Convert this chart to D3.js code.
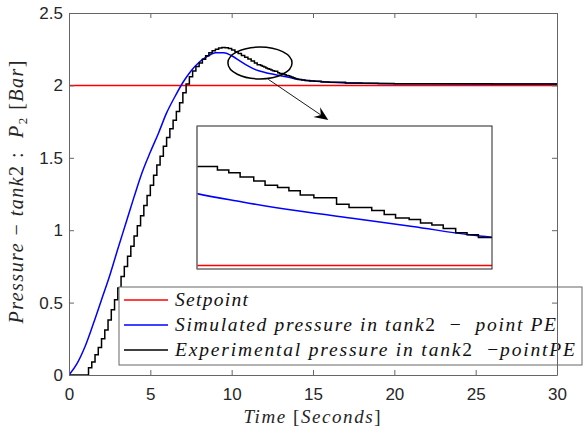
<!DOCTYPE html>
<html>
<head>
<meta charset="utf-8">
<script src="https://cdn.jsdelivr.net/npm/d3@7"></script>
<style>
  body { margin: 0; background: #fff; }
  svg text { white-space: pre; }
</style>
</head>
<body>
<div id="chart"></div>
<script>
const width = 585;
const height = 431;
const margin = { top: 13, right: 28, bottom: 56, left: 69 };

// Simulated pressure (blue)
const simTime = [0, 0.5, 1, 1.5, 2, 2.5, 3, 3.5, 4, 4.5, 5, 5.5, 6, 6.5, 7, 7.5, 8, 8.5, 9, 9.5, 10, 10.5, 11, 11.5, 12, 12.5, 13, 13.5, 14, 14.5, 15, 16, 17, 18, 20, 22, 25, 30];
const simPressure = [0, 0.08, 0.2, 0.355, 0.52, 0.685, 0.87, 1.05, 1.23, 1.4, 1.54, 1.67, 1.81, 1.92, 2.02, 2.1, 2.16, 2.2, 2.225, 2.225, 2.205, 2.17, 2.135, 2.107, 2.091, 2.078, 2.067, 2.056, 2.044, 2.036, 2.03, 2.022, 2.017, 2.014, 2.012, 2.011, 2.01, 2.01];

// Experimental pressure (black, sampled / held)
const expTime = [0, 1.0, 1.2, 1.4, 1.6, 1.8, 2.0, 2.2, 2.4, 2.6, 2.8, 3.0, 3.2, 3.4, 3.6, 3.8, 4.0, 4.2, 4.4, 4.6, 4.8, 5.0, 5.2, 5.4, 5.6, 5.8, 6.0, 6.2, 6.4, 6.6, 6.8, 7.0, 7.2, 7.4, 7.6, 7.8, 8.0, 8.2, 8.4, 8.6, 8.8, 9.0, 9.2, 9.4, 9.6, 9.8, 10.0, 10.2, 10.4, 10.6, 10.8, 11.0, 11.2, 11.4,
  11.57, 11.78, 11.88, 11.98, 12.10, 12.20, 12.31, 12.41, 12.51, 12.63, 12.83, 12.94, 13.14, 13.25, 13.35, 13.47, 13.57, 13.67, 13.77, 13.88, 13.98, 14.08,
  14.3, 14.5, 14.8, 15.1, 15.5, 16, 17, 18, 19, 20, 22, 24, 26, 28, 30];
const expPressure = [0, 0, 0.05, 0.09, 0.14, 0.19, 0.25, 0.31, 0.38, 0.45, 0.52, 0.6, 0.68, 0.75, 0.82, 0.89, 0.96, 1.03, 1.1, 1.17, 1.24, 1.31, 1.38, 1.45, 1.51, 1.58, 1.64, 1.7, 1.76, 1.82, 1.88, 1.95, 2.01, 2.06, 2.1, 2.13, 2.155, 2.18, 2.205, 2.225, 2.24, 2.25, 2.258, 2.262, 2.26, 2.255, 2.245, 2.233, 2.22, 2.207, 2.195, 2.182, 2.168, 2.155,
  2.142, 2.137, 2.133, 2.127, 2.121, 2.115, 2.112, 2.107, 2.101, 2.097, 2.088, 2.083, 2.079, 2.073, 2.068, 2.066, 2.061, 2.058, 2.053, 2.047, 2.044, 2.040,
  2.037, 2.034, 2.031, 2.028, 2.024, 2.021, 2.017, 2.015, 2.013, 2.012, 2.011, 2.011, 2.01, 2.01, 2.01];

const setpointTime = [0, 30];
const setpointPressure = [2, 2];

const xTicks = [0, 5, 10, 15, 20, 25, 30];
const yTicks = [0, 0.5, 1, 1.5, 2, 2.5];

// zoomed window shown in the inset
const insetTimeRange = [11.6, 14.2];
const insetPressureRange = [1.995, 2.2];

// ellipse around the zoomed region (data units) and arrow to the inset
const zoomCenter = [11.74, 2.155];
const zoomRadius = [1.97, 0.11];
const arrowFrom = [12.25, 2.042];
const arrowTo = [15.94, 1.761];

const legendLabels = ["Setpoint", "Simulated pressure in tank2  −  point PE", "Experimental pressure in tank2  −pointPE"];
const legendColors = ["#ff0000", "#0000ff", "#000000"];

const svg = d3.select("#chart").append("svg")
  .attr("width", width)
  .attr("height", height);

const x = d3.scaleLinear().domain([0, 30]).range([margin.left, width - margin.right]);
const y = d3.scaleLinear().domain([0, 2.5]).range([height - margin.bottom, margin.top]);

const simData = simTime.map((t, i) => [t, simPressure[i]]);
const expData = expTime.map((t, i) => [t, expPressure[i]]);
const spData = setpointTime.map((t, i) => [t, setpointPressure[i]]);

svg.append("clipPath").attr("id", "plotClip")
  .append("rect")
  .attr("x", margin.left).attr("y", margin.top)
  .attr("width", width - margin.left - margin.right)
  .attr("height", height - margin.top - margin.bottom);

const plot = svg.append("g").attr("clip-path", "url(#plotClip)");

const smooth = (sx, sy) => d3.line().x(d => sx(d[0])).y(d => sy(d[1])).curve(d3.curveMonotoneX);
const stairs = (sx, sy) => d3.line().x(d => sx(d[0])).y(d => sy(d[1])).curve(d3.curveStepAfter);

plot.append("path").datum(spData)
  .attr("d", smooth(x, y)).attr("fill", "none")
  .attr("stroke", "#ff0000").attr("stroke-width", 1.5);
plot.append("path").datum(simData)
  .attr("d", smooth(x, y)).attr("fill", "none")
  .attr("stroke", "#0000ff").attr("stroke-width", 1.5);
plot.append("path").datum(expData)
  .attr("d", stairs(x, y)).attr("fill", "none")
  .attr("stroke", "#000").attr("stroke-width", 1.5);

// ellipse
svg.append("ellipse")
  .attr("cx", x(zoomCenter[0])).attr("cy", y(zoomCenter[1]))
  .attr("rx", x(zoomCenter[0] + zoomRadius[0]) - x(zoomCenter[0]))
  .attr("ry", y(zoomCenter[1]) - y(zoomCenter[1] + zoomRadius[1]))
  .attr("fill", "none").attr("stroke", "#000").attr("stroke-width", 1.5);

// arrow
const ax0 = x(arrowFrom[0]), ay0 = y(arrowFrom[1]);
const ax1 = x(arrowTo[0]), ay1 = y(arrowTo[1]);
const ang = Math.atan2(ay1 - ay0, ax1 - ax0);
const hl = 14, hw = 6, notch = 9;
const pt = (d, s) => [ax1 - d * Math.cos(ang) - s * Math.sin(ang), ay1 - d * Math.sin(ang) + s * Math.cos(ang)];
svg.append("line")
  .attr("x1", ax0).attr("y1", ay0)
  .attr("x2", pt(notch, 0)[0]).attr("y2", pt(notch, 0)[1])
  .attr("stroke", "#000").attr("stroke-width", 0.9);
svg.append("path")
  .attr("d", "M" + [[ax1, ay1], pt(hl, hw), pt(notch, 0), pt(hl, -hw)].map(p => p.join(",")).join("L") + "Z")
  .attr("fill", "#000");

// inset
const inset = { x: 197, y: 126, w: 295, h: 143 };
const ix = d3.scaleLinear().domain(insetTimeRange).range([inset.x, inset.x + inset.w]);
const iy = d3.scaleLinear().domain(insetPressureRange).range([inset.y + inset.h, inset.y]);

svg.append("clipPath").attr("id", "insetClip")
  .append("rect").attr("x", inset.x).attr("y", inset.y).attr("width", inset.w).attr("height", inset.h);

svg.append("rect")
  .attr("x", inset.x).attr("y", inset.y).attr("width", inset.w).attr("height", inset.h)
  .attr("fill", "#fff");

const insetG = svg.append("g").attr("clip-path", "url(#insetClip)");
insetG.append("path").datum(spData)
  .attr("d", smooth(ix, iy)).attr("fill", "none")
  .attr("stroke", "#ff0000").attr("stroke-width", 1.5);
insetG.append("path").datum(simData)
  .attr("d", smooth(ix, iy)).attr("fill", "none")
  .attr("stroke", "#0000ff").attr("stroke-width", 1.5);
insetG.append("path").datum(expData)
  .attr("d", stairs(ix, iy)).attr("fill", "none")
  .attr("stroke", "#000").attr("stroke-width", 1.5);

svg.append("rect")
  .attr("x", inset.x).attr("y", inset.y).attr("width", inset.w).attr("height", inset.h)
  .attr("fill", "none").attr("stroke", "#222").attr("stroke-width", 1);
svg.append("line")
  .attr("x1", inset.x).attr("x2", inset.x).attr("y1", inset.y).attr("y2", inset.y + inset.h)
  .attr("stroke", "#888").attr("stroke-width", 1.2);

// letters in italic, the rest upright, like LaTeX math
function mathText(sel, str) {
  str.split(/([A-Za-z]+)/).filter(s => s.length).forEach(s => {
    sel.append("tspan")
      .style("font-style", /[A-Za-z]/.test(s) ? "italic" : "normal")
      .text(s);
  });
}

// legend
const legend = { x: 119, y: 287, w: 463, h: 78 };
svg.append("rect")
  .attr("x", legend.x).attr("y", legend.y).attr("width", legend.w).attr("height", legend.h)
  .attr("fill", "#fff").attr("stroke", "#666").attr("stroke-width", 1);

const rowY = d3.scalePoint().domain(d3.range(legendLabels.length)).range([300, 350]);
const textLengths = [73, 381, 400];
legendLabels.forEach((label, i) => {
  svg.append("line")
    .attr("x1", 124).attr("x2", 168)
    .attr("y1", rowY(i)).attr("y2", rowY(i))
    .attr("stroke", legendColors[i]).attr("stroke-width", 1.5);
  const t = svg.append("text")
    .attr("x", 175).attr("y", rowY(i) + 6)
    .attr("textLength", textLengths[i])
    .style("font-family", "'Liberation Serif', serif")
    .style("font-size", "19.5px")
    .style("fill", "#111");
  mathText(t, label);
});

// axes
const plotBottom = height - margin.bottom;
const plotRight = width - margin.right;

const styleAxis = g => {
  g.selectAll(".domain").attr("stroke", "#666");
  g.selectAll(".tick line").attr("stroke", "#666");
  g.selectAll("text")
    .style("font-family", "'Liberation Sans', Arial, sans-serif")
    .style("font-size", "17px")
    .attr("fill", "#262626");
};

svg.append("g")
  .attr("transform", `translate(0,${plotBottom})`)
  .call(d3.axisBottom(x).tickValues(xTicks).tickSize(-5).tickSizeOuter(0).tickPadding(13).tickFormat(d3.format("")))
  .call(styleAxis);
svg.append("g")
  .attr("transform", `translate(0,${margin.top})`)
  .call(d3.axisTop(x).tickValues(xTicks).tickSize(-5).tickSizeOuter(0).tickFormat(""))
  .call(styleAxis);
svg.append("g")
  .attr("transform", `translate(${margin.left},0)`)
  .call(d3.axisLeft(y).tickValues(yTicks).tickSize(-5).tickSizeOuter(0).tickPadding(6).tickFormat(d3.format("")))
  .call(styleAxis);
svg.append("g")
  .attr("transform", `translate(${plotRight},0)`)
  .call(d3.axisRight(y).tickValues(yTicks).tickSize(-5).tickSizeOuter(0).tickFormat(""))
  .call(styleAxis);

// axis titles
const xTitle = svg.append("text")
  .attr("x", 312).attr("y", 423)
  .attr("text-anchor", "middle")
  .attr("textLength", 137)
  .style("font-family", "'Liberation Serif', serif")
  .style("font-size", "19px")
  .style("fill", "#262626");
mathText(xTitle, "Time [Seconds]");

const yTitle = svg.append("text")
  .attr("transform", "translate(23,192) rotate(-90)")
  .attr("text-anchor", "middle")
  .attr("textLength", 263)
  .style("font-family", "'Liberation Serif', serif")
  .style("font-size", "20px")
  .style("fill", "#262626");
mathText(yTitle, "Pressure − tank2 :  P");
yTitle.append("tspan").attr("dy", 4).style("font-size", "13px").text("2");
yTitle.append("tspan").attr("dy", -4).text(" ");
mathText(yTitle, "[Bar]");
</script>
</body>
</html>
